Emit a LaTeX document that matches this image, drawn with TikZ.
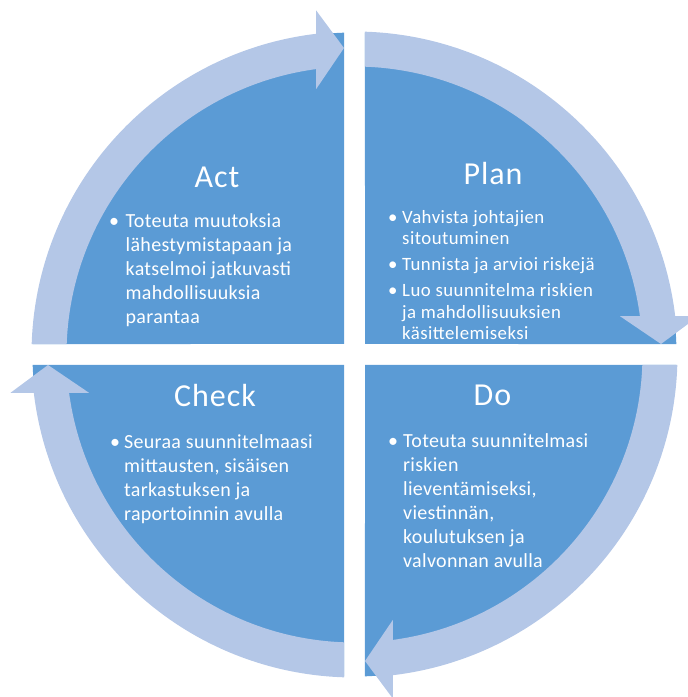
\documentclass[tikz,border=0pt]{standalone}
\usepackage{fontspec}
\setmainfont{Carlito}
\newfontfamily\bodyfont[LetterSpace=1.5]{Carlito}
\newfontfamily\smallbodyfont[LetterSpace=2.5]{Carlito}
\newfontfamily\titlefont[LetterSpace=3]{Carlito}
\definecolor{quadblue}{RGB}{91,155,213}
\definecolor{ringblue}{RGB}{180,199,231}
\begin{document}
\begin{tikzpicture}[x=1pt,y=1pt,
  quadrant/.style={fill=quadblue},
  ringarrow/.style={fill=ringblue},
  phasetitle/.style={text=white,inner sep=0pt,anchor=base,font=\titlefont\fontsize{32}{38}\selectfont},
  phasebody/.style={text=white,inner sep=0pt,anchor=base west,font=\bodyfont\fontsize{20}{24}\selectfont},
  phasebodysmall/.style={text=white,inner sep=0pt,anchor=base west,font=\smallbodyfont\fontsize{18.8}{21.7}\selectfont}]
\useasboundingbox (0,0) rectangle (688,697);
\clip (0,0) rectangle (688,697);

% cycle centre
\coordinate (c) at (354.5,342.5);

% four quarter discs separated by narrow gaps
\foreach \r in {0,90,180,270}{
  \begin{scope}[shift={(c)},rotate=\r]
    \path[quadrant] (10.5,10.5) -- (88.131:322)
      arc[start angle=88.131,end angle=1.869,radius=322] -- cycle;
  \end{scope}
}

% curved arrows running clockwise round the ring
\foreach \r in {0,90,180,270}{
  \begin{scope}[shift={(c)},rotate=\r]
    \path[ringarrow] (88.137:323)
      arc[start angle=88.137,end angle=6.81,radius=323]
      -- (344,38.3) -- (306.5,10.5) -- (265.5,38.3)
      -- (7.64:288)
      arc[start angle=7.64,end angle=87.911,radius=288] -- cycle;
  \end{scope}
}

% phase titles
\node[phasetitle] (titleAct) at (217,509.7) {Act};
\node[phasetitle] (titlePlan) at (493,512.7) {Plan};
\node[phasetitle] (titleCheck) at (215,290.3) {Check};
\node[phasetitle] (titleDo) at (492.5,291.3) {Do};

% bullet texts
\node[phasebody] (bodyAct) at (109,469.7) {%
  \begin{tabular}[t]{@{}p{16.5pt}@{}l@{}}
  \textbullet & Toteuta muutoksia\\
   & lähestymistapaan ja\\
   & katselmoi jatkuvasti\\
   & mahdollisuuksia\\
   & parantaa
  \end{tabular}};

\node[phasebodysmall] (bodyPlan) at (388,473.7) {%
  \begin{tabular}[t]{@{}p{14pt}@{}l@{}}
  \textbullet & Vahvista johtajien\\
   & sitoutuminen\\[4pt]
  \textbullet & Tunnista ja arvioi riskejä\\[4pt]
  \textbullet & Luo suunnitelma riskien\\
   & ja mahdollisuuksien\\
   & käsittelemiseksi
  \end{tabular}};

\node[phasebody] (bodyCheck) at (110,248.7) {%
  \begin{tabular}[t]{@{}p{14pt}@{}l@{}}
  \textbullet & Seuraa suunnitelmaasi\\
   & mittausten, sisäisen\\
   & tarkastuksen ja\\
   & raportoinnin avulla
  \end{tabular}};

\node[phasebody] (bodyDo) at (388,249.7) {%
  \begin{tabular}[t]{@{}p{15pt}@{}l@{}}
  \textbullet & Toteuta suunnitelmasi\\
   & riskien\\
   & lieventämiseksi,\\
   & viestinnän,\\
   & koulutuksen ja\\
   & valvonnan avulla
  \end{tabular}};
\end{tikzpicture}
\end{document}
